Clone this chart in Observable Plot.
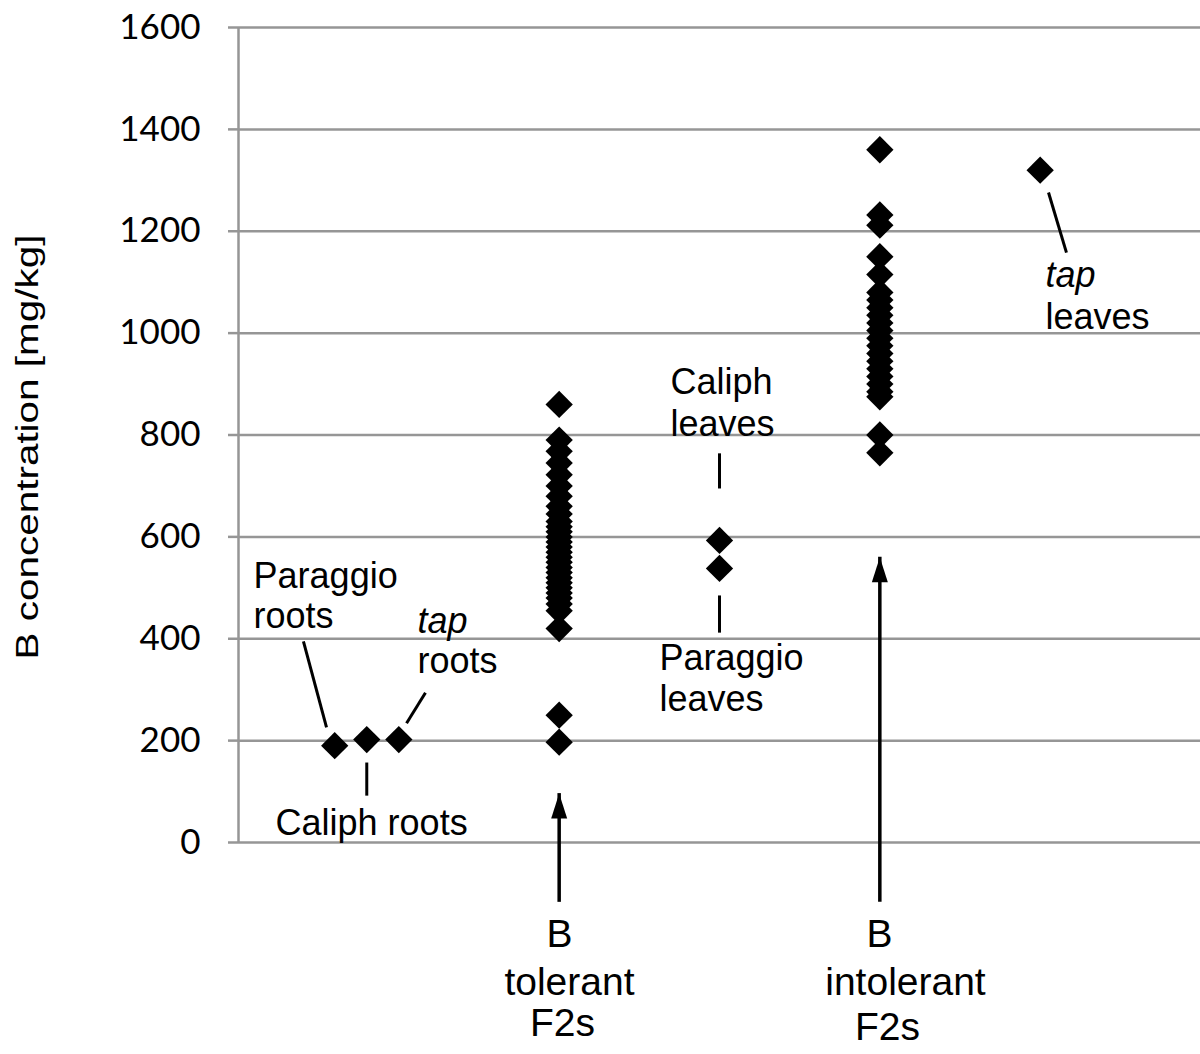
<!DOCTYPE html>
<html><head><meta charset="utf-8">
<script src="https://cdn.jsdelivr.net/npm/d3@7"></script>
<script src="https://cdn.jsdelivr.net/npm/@observablehq/plot@0.6"></script>
<style>html,body{margin:0;padding:0;background:#fff} svg{display:block}</style>
</head><body><div id="chart"></div>
<script>
// ---- data ----
const yTicks = [0, 200, 400, 600, 800, 1000, 1200, 1400, 1600];
const yLabel = "B concentration [mg/kg]";

// parental samples
const parentNames = ["Paraggio roots", "Caliph roots", "tap roots", "Caliph leaves", "Paraggio leaves", "tap leaves"];
const parentX = [0.6, 0.8, 1, 3, 3, 5];
const parentB = [190, 202, 202, 593, 538, 1320];

// F2 populations
const tolerantX = 2;
const tolerantB = [860, 790, 768, 745, 722, 700, 680, 660, 645, 630, 620, 610, 600, 590, 580, 570, 560, 550, 540, 530, 520, 510, 500, 490, 480, 468, 455, 420, 250, 197];
const intolerantX = 4;
const intolerantB = [1360, 1232, 1212, 1150, 1115, 1080, 1065, 1050, 1035, 1020, 1005, 990, 975, 960, 945, 930, 915, 900, 885, 875, 800, 765];

// annotation text lines (anchor in data units)
const sampleLabelText = ["Paraggio", "roots", "tap", "roots", "Caliph roots", "Caliph", "leaves", "Paraggio", "leaves", "tap", "leaves"];
const sampleLabelX = [0.094, 0.094, 1.116, 1.116, 0.231, 2.694, 2.694, 2.626, 2.626, 5.033, 5.033];
const sampleLabelY = [500, 422, 412, 332, 14, 881, 799, 338, 259, 1090, 1009];
const sampleLabelItalic = [false, false, true, false, false, false, false, false, false, true, false];

const groupLabelText = ["B", "tolerant", "F2s", "B", "intolerant", "F2s"];
const groupLabelX = [2.002, 2.064, 2.021, 3.998, 4.16, 4.048];
const groupLabelY = [-206, -300, -380, -206, -300, -388];

// leader lines
const leaderX1 = [0.405, 1.166, 0.8, 3.0, 3.0, 5.052];
const leaderY1 = [395, 294, 157, 764, 485, 1276];
const leaderX2 = [0.549, 1.048, 0.8, 3.0, 3.0, 5.164];
const leaderY2 = [226, 234, 92, 695, 412, 1158];

// arrows pointing at F2 groups
const arrowX = [2, 4];
const arrowFrom = [-90, -90];
const arrowTo = [96, 560];

// ---- build tables ----
const parents = parentNames.map((n, i) => ({name: n, x: parentX[i], b: parentB[i]}));
const f2 = [
  ...tolerantB.map(b => ({x: tolerantX, b})),
  ...intolerantB.map(b => ({x: intolerantX, b}))
];
const sampleLabels = sampleLabelText.map((t, i) => ({t, x: sampleLabelX[i], y: sampleLabelY[i], it: sampleLabelItalic[i]}));
const groupLabels = groupLabelText.map((t, i) => ({t, x: groupLabelX[i], y: groupLabelY[i]}));
const leaders = leaderX1.map((x1, i) => ({x1, y1: leaderY1[i], x2: leaderX2[i], y2: leaderY2[i]}));
const arrows = arrowX.map((x, i) => ({x, y1: arrowFrom[i], y2: arrowTo[i]}));

const arrowHead = {draw(ctx) { ctx.moveTo(0, 0); ctx.lineTo(8, 25); ctx.lineTo(-8, 25); ctx.closePath(); }};
const grid = "#969696";

const chart = Plot.plot({
  width: 1200,
  height: 1054,
  marginLeft: 238,
  marginRight: 0,
  marginTop: 27,
  marginBottom: 212,
  style: {fontFamily: "'Liberation Sans', Arial, sans-serif", background: "#fff", overflow: "visible"},
  x: {domain: [0, 6], axis: null},
  y: {domain: [0, 1600], label: null},
  marks: [
    Plot.ruleY(yTicks, {stroke: grid, strokeWidth: 2.5}),
    Plot.ruleX([0], {y1: 0, y2: 1600, stroke: grid, strokeWidth: 2.5}),
    Plot.axisY(yTicks, {tickSize: 10, tickPadding: 28, tickFormat: d3.format("d"), fontSize: 35, fontFamily: "Lato", stroke: grid, strokeWidth: 2.5, fill: "black", label: null}),
    Plot.text([yLabel], {frameAnchor: "left", textAnchor: "middle", dx: -210, dy: 12, rotate: -90, fontSize: 31, fill: "black", className: "ylab"}),
    Plot.link(leaders, {x1: "x1", y1: "y1", x2: "x2", y2: "y2", stroke: "black", strokeWidth: 3}),
    Plot.ruleX(arrows, {x: "x", y1: "y1", y2: "y2", stroke: "black", strokeWidth: 3.5, insetTop: 14}),
    Plot.dot(arrows, {x: "x", y: "y2", symbol: arrowHead, fill: "black", stroke: "none"}),
    Plot.dot(f2, {x: "x", y: "b", symbol: "diamond2", r: 12.3, fill: "black", stroke: "none"}),
    Plot.dot(parents, {x: "x", y: "b", symbol: "diamond2", r: 12.3, fill: "black", stroke: "none"}),
    Plot.text(sampleLabels.filter(d => !d.it), {x: "x", y: "y", text: "t", textAnchor: "start", lineAnchor: "bottom", fontSize: 36, fill: "black"}),
    Plot.text(sampleLabels.filter(d => d.it), {x: "x", y: "y", text: "t", textAnchor: "start", lineAnchor: "bottom", fontSize: 36, fontStyle: "italic", fill: "black"}),
    Plot.text(groupLabels, {x: "x", y: "y", text: "t", textAnchor: "middle", lineAnchor: "bottom", fontSize: 39, fill: "black"})
  ]
});
document.getElementById("chart").appendChild(chart);
d3.select(chart).selectAll(".ylab text").attr("textLength", 425).attr("lengthAdjust", "spacingAndGlyphs");
</script>
</body></html>
